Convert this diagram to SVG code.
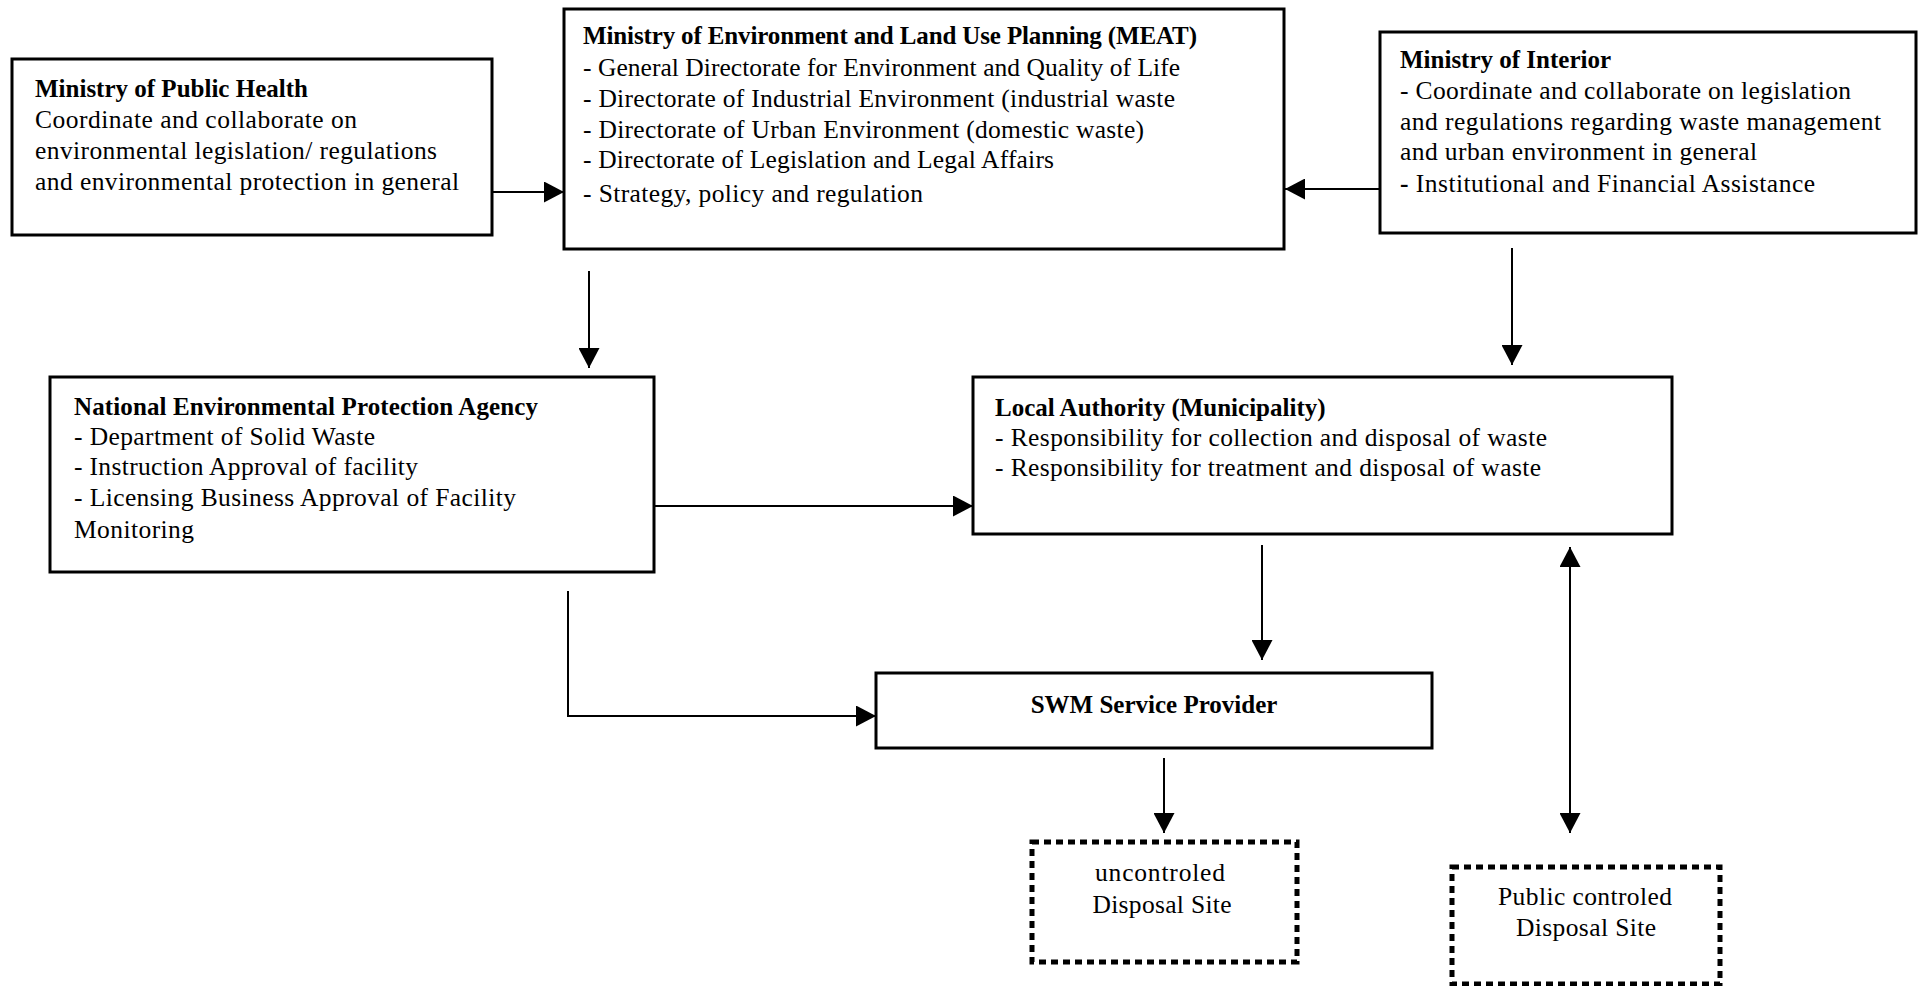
<svg xmlns="http://www.w3.org/2000/svg" width="1923" height="986" viewBox="0 0 1923 986">
<defs>
<marker id="ah" markerUnits="userSpaceOnUse" markerWidth="20" markerHeight="21" refX="20" refY="10.5" orient="auto-start-reverse" viewBox="0 0 20 21">
<path d="M0,0 L20,10.5 L0,21 z" fill="#000"/>
</marker>
</defs>
<style>
.box{fill:#fff;stroke:#000;stroke-width:3}
.dot{fill:#fff;stroke:#000;stroke-width:5;stroke-dasharray:7 5}
.t{font-family:"Liberation Serif","Times New Roman",serif;font-size:25.5px;fill:#000}
.b{font-weight:bold;font-size:25px}
.c{text-anchor:middle}
.ln{fill:none;stroke:#000;stroke-width:2}
</style>
<rect width="1923" height="986" fill="#fff"/>
<g id="connectors">
<line class="ln" x1="492" y1="192" x2="564" y2="192" marker-end="url(#ah)"/>
<line class="ln" x1="1380" y1="189" x2="1285" y2="189" marker-end="url(#ah)"/>
<line class="ln" x1="589" y1="271" x2="589" y2="368" marker-end="url(#ah)"/>
<line class="ln" x1="1512" y1="248" x2="1512" y2="365" marker-end="url(#ah)"/>
<line class="ln" x1="647" y1="506" x2="973" y2="506" marker-end="url(#ah)"/>
<line class="ln" x1="1262" y1="545" x2="1262" y2="660" marker-end="url(#ah)"/>
<polyline class="ln" points="568,591 568,716 876,716" marker-end="url(#ah)"/>
<line class="ln" x1="1164" y1="758" x2="1164" y2="833" marker-end="url(#ah)"/>
<line class="ln" x1="1570" y1="547" x2="1570" y2="833" marker-start="url(#ah)" marker-end="url(#ah)"/>
</g>
<g id="public-health">
<rect class="box" x="12" y="59" width="480" height="176"/>
<text class="t b" x="35" y="97">Ministry of Public Health</text>
<text class="t" x="35" y="128" textLength="322" lengthAdjust="spacing">Coordinate and collaborate on</text>
<text class="t" x="35" y="159" textLength="402" lengthAdjust="spacing">environmental legislation/ regulations</text>
<text class="t" x="35" y="190" textLength="424" lengthAdjust="spacing">and environmental protection in general</text>
</g>
<g id="meat">
<rect class="box" x="564" y="9" width="720" height="240"/>
<text class="t b" x="583" y="44" textLength="614" lengthAdjust="spacing">Ministry of Environment and Land Use Planning (MEAT)</text>
<text class="t" x="583" y="76" textLength="597" lengthAdjust="spacing">- General Directorate for Environment and Quality of Life</text>
<text class="t" x="583" y="107" textLength="592" lengthAdjust="spacing">- Directorate of Industrial Environment (industrial waste</text>
<text class="t" x="583" y="138" textLength="561" lengthAdjust="spacing">- Directorate of Urban Environment (domestic waste)</text>
<text class="t" x="583" y="168" textLength="471" lengthAdjust="spacing">- Directorate of Legislation and Legal Affairs</text>
<text class="t" x="583" y="202" textLength="340" lengthAdjust="spacing">- Strategy, policy and regulation</text>
</g>
<g id="interior">
<rect class="box" x="1380" y="32" width="536" height="201"/>
<text class="t b" x="1400" y="68">Ministry of Interior</text>
<text class="t" x="1400" y="99" textLength="451" lengthAdjust="spacing">- Coordinate and collaborate on legislation</text>
<text class="t" x="1400" y="130" textLength="481" lengthAdjust="spacing">and regulations regarding waste management</text>
<text class="t" x="1400" y="160" textLength="357" lengthAdjust="spacing">and urban environment in general</text>
<text class="t" x="1400" y="192" textLength="415" lengthAdjust="spacing"><tspan font-weight="bold">-</tspan> Institutional and Financial Assistance</text>
</g>
<g id="nepa">
<rect class="box" x="50" y="377" width="604" height="195"/>
<text class="t b" x="74" y="415" textLength="464" lengthAdjust="spacing">National Environmental Protection Agency</text>
<text class="t" x="74" y="445" textLength="301" lengthAdjust="spacing">- Department of Solid Waste</text>
<text class="t" x="74" y="475" textLength="344" lengthAdjust="spacing">- Instruction Approval of facility</text>
<text class="t" x="74" y="506" textLength="442" lengthAdjust="spacing">- Licensing Business Approval of Facility</text>
<text class="t" x="74" y="538" textLength="120" lengthAdjust="spacing">Monitoring</text>
</g>
<g id="local-authority">
<rect class="box" x="973" y="377" width="699" height="157"/>
<text class="t b" x="995" y="416">Local Authority (Municipality)</text>
<text class="t" x="995" y="446" textLength="552" lengthAdjust="spacing">- Responsibility for collection and disposal of waste</text>
<text class="t" x="995" y="476" textLength="546" lengthAdjust="spacing">- Responsibility for treatment and disposal of waste</text>
</g>
<g id="swm">
<rect class="box" x="876" y="673" width="556" height="75"/>
<text class="t b c" x="1154" y="713">SWM Service Provider</text>
</g>
<g id="uncontrolled-site">
<rect class="dot" x="1032" y="842" width="265" height="120"/>
<text class="t c" x="1160" y="881" textLength="130" lengthAdjust="spacing">uncontroled</text>
<text class="t c" x="1162" y="913" textLength="139" lengthAdjust="spacing">Disposal Site</text>
</g>
<g id="public-site">
<rect class="dot" x="1452" y="867" width="268" height="117"/>
<text class="t c" x="1585" y="905" textLength="174" lengthAdjust="spacing">Public controled</text>
<text class="t c" x="1586" y="936" textLength="140" lengthAdjust="spacing">Disposal Site</text>
</g>
</svg>
